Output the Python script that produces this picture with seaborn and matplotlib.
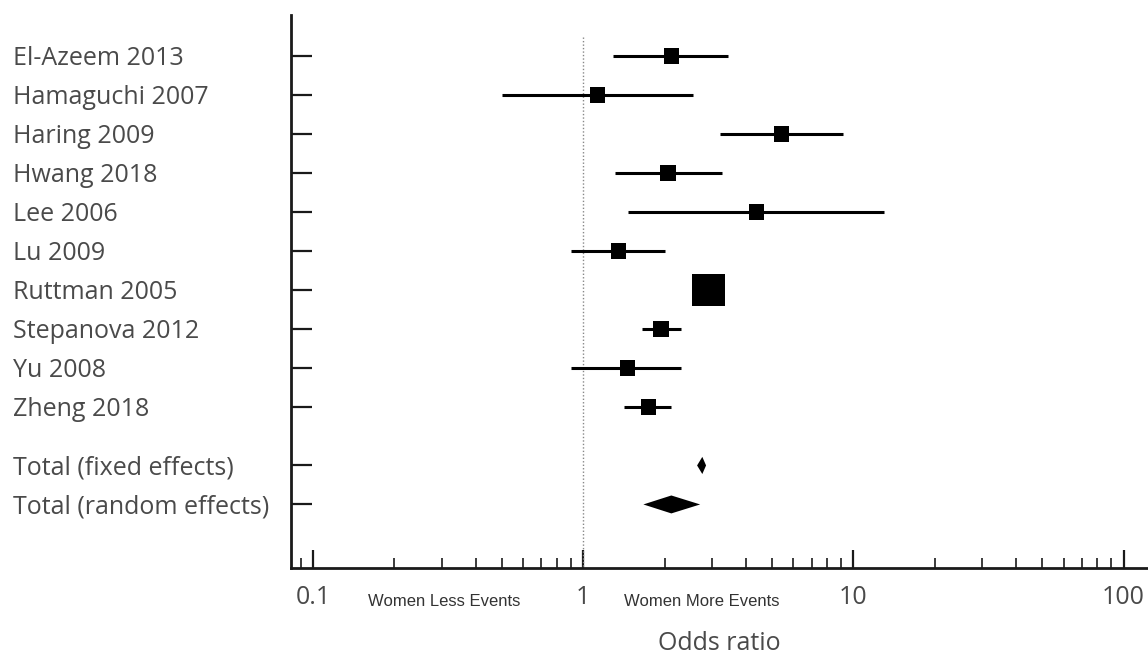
import matplotlib
matplotlib.use("Agg")
import matplotlib.pyplot as plt
import matplotlib.transforms as mtransforms
from matplotlib.ticker import LogLocator, FixedLocator, NullFormatter
import numpy as np
import pandas as pd
import seaborn as sns

# ---------------- data ----------------
studies = ["El-Azeem 2013", "Hamaguchi 2007", "Haring 2009", "Hwang 2018",
           "Lee 2006", "Lu 2009", "Ruttman 2005", "Stepanova 2012",
           "Yu 2008", "Zheng 2018"]
odds_ratio = [2.12, 1.13, 5.41, 2.06, 4.37, 1.35, 2.90, 1.94, 1.46, 1.74]
ci_low = [1.29, 0.50, 3.22, 1.31, 1.46, 0.90, 2.72, 1.65, 0.90, 1.41]
ci_high = [3.44, 2.56, 9.18, 3.27, 13.0, 2.00, 3.08, 2.31, 2.31, 2.12]
weight = [1.0, 1.0, 1.0, 1.0, 1.0, 1.0, 4.6, 1.0, 1.0, 1.0]

totals = ["Total (fixed effects)", "Total (random effects)"]
total_or = [2.76, 2.12]
total_low = [2.64, 1.67]
total_high = [2.85, 2.71]

xtick_values = [0.1, 1, 10, 100]
xtick_labels = ["0.1", "1", "10", "100"]
side_labels = ["Women Less Events", "Women More Events"]
side_label_x = [0.305, 2.74]
x_title = "Odds ratio"

# ---------------- style ----------------
sns.set_style("ticks")
plt.rcParams["font.family"] = ["Open Sans", "DejaVu Sans"]
text_color = "#4a4a4a"

fig = plt.figure(figsize=(11.48, 6.55), dpi=100)
ax = fig.add_axes([0.2535, 0.1328, 0.7455, 0.8443])

study_y = list(range(1, len(studies) + 1))
total_y = [len(studies) + 1.5, len(studies) + 2.5]

df = pd.DataFrame({"study": studies, "or": odds_ratio, "lo": ci_low,
                   "hi": ci_high, "weight": weight, "y": study_y})

# confidence intervals
ax.hlines(df["y"], df["lo"], df["hi"], color="black", lw=2.2, zorder=2)

# study squares
sns.scatterplot(data=df, x="or", y="y", size="weight", sizes=(120, 560),
                marker="s", color="black", linewidth=0, legend=False,
                ax=ax, zorder=3)

# pooled diamonds
half_h = [0.22, 0.23]
for yv, est, lo, hi, h in zip(total_y, total_or, total_low, total_high, half_h):
    ax.fill([lo, est, hi, est], [yv, yv - h, yv, yv + h], color="black",
            lw=0, zorder=3)

ax.set_xscale("log")
ax.set_xlim(0.0829, 122)
ax.set_ylim(14.13, -0.05)

# line of no effect
ax.vlines(1, 0.51, 14.13, colors="#888888", linestyles=(0, (1, 1.5)), lw=1.0,
          zorder=1)

# axes styling
for side in ["top", "right"]:
    ax.spines[side].set_visible(False)
for side in ["left", "bottom"]:
    ax.spines[side].set_linewidth(2.0)
    ax.spines[side].set_color("#1a1a1a")

ax.set_xticks(xtick_values)
ax.set_xticklabels(xtick_labels)
ax.xaxis.set_minor_locator(LogLocator(base=10, subs=np.arange(2, 10)))
ax.xaxis.set_minor_formatter(NullFormatter())
ax.tick_params(axis="x", which="major", direction="in", length=13, width=1.6,
               color="#1a1a1a", pad=12, labelsize=18, labelcolor=text_color)
ax.tick_params(axis="x", which="minor", direction="in", length=7.5, width=1.2,
               color="#1a1a1a")

ax.set_yticks(study_y + total_y)
ax.set_yticklabels(studies + totals)
ax.tick_params(axis="y", which="major", direction="in", length=15, width=1.6,
               color="#1a1a1a", pad=200, labelsize=18, labelcolor=text_color)
for lbl in ax.get_yticklabels():
    lbl.set_horizontalalignment("left")
ax.yaxis.set_minor_locator(FixedLocator([]))

ax.set_xlabel(x_title, fontsize=18, color=text_color, labelpad=15)
ax.set_ylabel("")

trans = mtransforms.blended_transform_factory(ax.transData, ax.transAxes)
for lab, xv in zip(side_labels, side_label_x):
    ax.text(xv, -0.06, lab, transform=trans, ha="center", va="center",
            fontsize=12, color="#333333",
            family=["Liberation Sans Narrow", "Liberation Sans", "DejaVu Sans"])

fig.savefig("out.png", dpi=100)
